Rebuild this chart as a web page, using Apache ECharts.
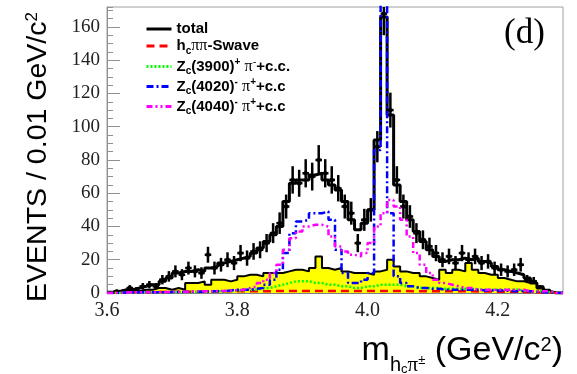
<!DOCTYPE html>
<html>
<head>
<meta charset="utf-8">
<script src="https://cdn.jsdelivr.net/npm/echarts@6/dist/echarts.min.js"></script>
<style>
  html, body { margin: 0; padding: 0; background: #fff; }
  #chart { width: 577px; height: 374px; }
</style>
</head>
<body>
<div id="chart"></div>
<script>
// Binning of the h_c pi invariant mass: 70 bins of 0.01 GeV/c^2 from 3.60 to 4.30
const binLow = 3.60;
const binWidth = 0.01;
const nBins = 70;

// Axis ticks
const xTickValues = [3.6, 3.8, 4.0, 4.2];
const yTickValues = [0, 20, 40, 60, 80, 100, 120, 140, 160];

// Observed events per bin
const dataCounts = [
  0, 1, 1, 3, 2, 4, 5, 4, 8, 10,
  13, 11, 15, 13, 12, 23, 15, 17, 20, 18,
  24, 21, 25, 26, 30, 36, 42, 52, 68, 66,
  72, 70, 80, 72, 68, 63, 52, 48, 30, 44,
  50, 88, 168, 110, 68, 52, 46, 36, 32, 28,
  24, 20, 22, 18, 24, 20, 22, 18, 19, 15,
  14, 13, 14, 17, 8, 7, 3, 1, 0, 0
];

// Fit: total
const total = [
  0.5, 1, 2, 2, 3, 4, 5, 5, 7, 9,
  12, 13, 13, 14, 13, 15, 16, 18, 19, 20,
  21, 22, 24, 27, 31, 35, 40, 55, 66, 68,
  68, 71, 72, 68, 65, 62, 55, 44, 38, 42,
  50, 92, 166, 107, 65, 55, 44, 37, 31, 26,
  22, 19, 20, 20, 21, 20, 21, 19, 18, 16,
  14, 13, 12, 11, 9, 6, 3, 1, 0, 0
];

// Background (filled)
const background = [
  0, 0, 0.5, 1, 1, 2, 2, 3, 3, 2,
  3, 2, 6, 6, 7, 5, 8, 8, 7, 8,
  10, 11, 11, 10, 12, 12, 12, 13, 14, 14,
  13, 15, 22, 15, 14, 15, 13, 12, 12, 12,
  11, 13, 14, 20, 16, 13, 12, 12, 10, 9,
  8, 14, 12, 14, 13, 18, 14, 12, 11, 11,
  9, 8, 7, 7, 6, 6, 4, 2, 0, 0
];

// h_c pi pi S-wave
const swave = [
  0, 0, 0.3, 0.5, 0.5, 0.5, 0.5, 0.6, 0.6, 0.7,
  0.7, 0.8, 0.8, 0.8, 0.9, 0.9, 1, 1, 1, 1,
  1, 1, 1.1, 1.1, 1.1, 1.2, 1.2, 1.2, 1.2, 1.2,
  1.2, 1.2, 1.2, 1.2, 1.2, 1.2, 1.2, 1.2, 1.2, 1.2,
  1.2, 1.2, 1.2, 1.2, 1.2, 1.2, 1.1, 1.1, 1.1, 1.1,
  1, 1, 1, 1, 1, 1, 0.9, 0.9, 0.9, 0.8,
  0.8, 0.7, 0.7, 0.6, 0.5, 0.4, 0.3, 0.2, 0, 0
];

// Z_c(3900)+ pi- + c.c.
const zc3900 = [
  0, 0, 0.3, 0.3, 0.4, 0.4, 0.5, 0.5, 0.5, 0.6,
  0.6, 0.7, 0.7, 0.8, 0.8, 1, 1, 1, 1.2, 1.3,
  1.5, 2, 2, 3, 3, 4, 5, 6, 7, 7,
  7, 6, 6, 5, 5, 4, 4, 3, 3, 4,
  4, 5, 5, 5, 5, 4, 4, 3, 3, 3,
  3, 2.5, 2.5, 2.5, 2.5, 2.5, 2, 2, 2, 2,
  2, 2, 2, 1.5, 1, 1, 1, 0.5, 0, 0
];

// Z_c(4020)- pi+ + c.c.
const zc4020 = [
  0, 0, 0.3, 0.3, 0.4, 0.4, 0.5, 0.5, 0.5, 0.6,
  0.6, 0.7, 0.7, 0.8, 0.8, 1, 1, 1, 1.5, 2,
  2, 2, 2.5, 3, 5, 8, 14, 24, 36, 43,
  44, 48, 48, 49, 44, 26, 12, 6, 6, 8,
  12, 86, 250, 48, 10, 6, 4, 3, 3, 2.5,
  2.5, 2, 2, 2, 2, 2, 2, 1.5, 1.5, 1.5,
  1.5, 1.2, 1, 1, 1, 0.8, 0.5, 0.3, 0, 0
];

// Z_c(4040)- pi+ + c.c.
const zc4040 = [
  0, 0, 0.3, 0.4, 0.5, 0.5, 0.5, 0.6, 0.6, 0.7,
  0.8, 0.8, 0.9, 1, 1, 1, 1.2, 1.3, 1.5, 1.7,
  2, 3, 4, 6, 8, 12, 17, 26, 33, 37,
  40, 41, 41, 40, 34, 28, 25, 23, 22, 24,
  30, 40, 48, 56, 52, 44, 34, 24, 17, 12,
  8, 6, 5, 4, 3, 3, 2, 2, 2, 2,
  2, 2, 2, 2, 1, 1, 1, 1, 0, 0
];

// Histogram outline points: value held across each bin, closed at the upper edge
function histPoints(vals) {
  const pts = vals.map((v, i) => [+(binLow + i * binWidth).toFixed(2), v]);
  pts.push([+(binLow + nBins * binWidth).toFixed(2), vals[vals.length - 1]]);
  return pts;
}

// Data points with Poisson errors and bin-width horizontal bars
const dataPoints = dataCounts
  .map((n, i) => [+(binLow + i * binWidth).toFixed(2), +(binLow + (i + 1) * binWidth).toFixed(2), n, Math.sqrt(n)])
  .filter(d => d[2] > 0);

const SANS = '"Liberation Sans", Arial, sans-serif';
const SERIF = '"Liberation Serif", "Times New Roman", serif';

const legendRich = {
  b: { fontFamily: SANS, fontWeight: 'bold', fontSize: 15, lineHeight: 20, color: '#000' },
  s: { fontFamily: SANS, fontWeight: 'bold', fontSize: 10, padding: [10, 0, 0, 0], color: '#000' },
  p: { fontFamily: SANS, fontWeight: 'bold', fontSize: 10, padding: [0, 0, 8, 0], color: '#000' },
  g: { fontFamily: SERIF, fontWeight: 'normal', fontSize: 16, color: '#000' },
  gp: { fontFamily: SERIF, fontWeight: 'normal', fontSize: 11, padding: [0, 0, 8, 0], color: '#000' }
};

const legendLabels = {
  'total': '{b|total}',
  'hcpipi-Swave': '{b|h}{s|c}{g|ππ}{b|-Swave}',
  'Zc3900': '{b|Z}{s|c}{b|(3900)}{p|+}{b| }{g|π}{gp|-}{b|+c.c.}',
  'Zc4020': '{b|Z}{s|c}{b|(4020)}{p|-}{b| }{g|π}{p|+}{b|+c.c}',
  'Zc4040': '{b|Z}{s|c}{b|(4040)}{p|-}{b| }{g|π}{p|+}{b|+c.c}'
};

function stepSeries(name, vals, color, width, dash) {
  return {
    name: name,
    type: 'line',
    step: 'end',
    data: histPoints(vals),
    symbol: 'none',
    clip: true,
    animation: false,
    lineStyle: { color: color, width: width, type: dash },
    itemStyle: { color: color }
  };
}

const chart = echarts.init(document.getElementById('chart'), null, { renderer: 'canvas' });

chart.setOption({
  animation: false,
  backgroundColor: '#fff',
  grid: {
    left: 107, right: 14, top: 7, bottom: 81,
    show: true, borderColor: '#a0a0a0', borderWidth: 1, backgroundColor: '#fff'
  },
  xAxis: {
    type: 'value',
    min: 3.6, max: 4.3, interval: 0.2,
    axisLine: { show: true, lineStyle: { color: '#808080', width: 1 } },
    axisTick: { show: false },
    splitLine: { show: false },
    axisLabel: {
      show: true, margin: 8,
      fontFamily: SERIF, fontSize: 20, color: '#222',
      showMaxLabel: false,
      formatter: v => {
        const t = xTickValues.find(x => Math.abs(x - v) < 1e-6);
        return t === undefined ? '' : t.toFixed(1);
      }
    }
  },
  yAxis: [
    {
      type: 'value',
      min: 0, max: 172, interval: 20,
      axisLine: { show: true, lineStyle: { color: '#909090', width: 1 } },
      axisTick: { show: true, inside: true, length: 13, lineStyle: { color: '#909090' } },
      splitLine: { show: false },
      axisLabel: {
        margin: 7, fontFamily: SERIF, fontSize: 19, color: '#222',
        showMaxLabel: false,
        formatter: v => (yTickValues.indexOf(Math.round(v)) >= 0 && Math.abs(v - Math.round(v)) < 1e-6) ? String(Math.round(v)) : ''
      }
    },
    {
      type: 'value',
      position: 'left',
      min: 0, max: 172, interval: 5,
      axisLine: { show: false },
      axisTick: { show: true, inside: true, length: 6, lineStyle: { color: '#909090' } },
      axisLabel: { show: false },
      splitLine: { show: false }
    }
  ],
  legend: {
    orient: 'vertical',
    left: 145, top: 21, padding: 0,
    itemWidth: 25, itemHeight: 20, itemGap: 1,
    selectedMode: false,
    data: ['total', 'hcpipi-Swave', 'Zc3900', 'Zc4020', 'Zc4040'],
    lineStyle: { width: 3 },
    itemStyle: { opacity: 0 },
    formatter: name => legendLabels[name],
    textStyle: { rich: legendRich }
  },
  graphic: [
    {
      type: 'text', left: 504, top: 16, z: 100,
      style: { text: '(d)', font: '35px ' + SERIF, fill: '#000' }
    },
    {
      type: 'text', x: 38, y: 157, rotation: Math.PI / 2, z: 100,
      style: {
        text: '{t|EVENTS / 0.01 GeV/c}{u|2}',
        align: 'center', verticalAlign: 'middle',
        rich: {
          t: { fontFamily: SANS, fontSize: 28.5, color: '#000' },
          u: { fontFamily: SANS, fontSize: 17, padding: [0, 0, 12, 0], color: '#000' }
        }
      }
    },
    {
      type: 'text', x: 563, y: 351, z: 100,
      style: {
        text: '{m|m}{h|h}{c|c}{g|π}{pm|±}{m| (GeV/c}{two|2}{m|)}',
        align: 'right', verticalAlign: 'middle',
        rich: {
          m: { fontFamily: SANS, fontSize: 34, color: '#000' },
          h: { fontFamily: SANS, fontSize: 20, padding: [28, 0, 0, 0], color: '#000' },
          c: { fontFamily: SANS, fontSize: 13, padding: [36, 0, 0, 0], color: '#000' },
          g: { fontFamily: SERIF, fontSize: 21, padding: [28, 0, 0, 0], color: '#000' },
          pm: { fontFamily: SANS, fontSize: 13, padding: [18, 0, 0, 0], color: '#000' },
          two: { fontFamily: SANS, fontSize: 20, padding: [0, 0, 12, 0], color: '#000' }
        }
      }
    }
  ],
  series: [
    {
      name: 'background',
      type: 'line',
      step: 'end',
      data: histPoints(background),
      symbol: 'none',
      clip: true,
      lineStyle: { color: '#000', width: 2 },
      areaStyle: { color: '#ffff00', opacity: 1 }
    },
    {
      name: 'data',
      type: 'custom',
      clip: true,
      data: dataPoints,
      encode: { x: [0, 1], y: [2] },
      renderItem: (params, api) => {
        const lo = api.value(0), hi = api.value(1), n = api.value(2), e = api.value(3);
        const pL = api.coord([lo, n]);
        const pR = api.coord([hi, n]);
        const pT = api.coord([(lo + hi) / 2, n + e]);
        const pB = api.coord([(lo + hi) / 2, Math.max(n - e, 0)]);
        return {
          type: 'group',
          children: [
            { type: 'line', shape: { x1: pL[0], y1: pL[1], x2: pR[0], y2: pR[1] }, style: { stroke: '#000', lineWidth: 2.5 } },
            { type: 'line', shape: { x1: pT[0], y1: pT[1], x2: pB[0], y2: pB[1] }, style: { stroke: '#000', lineWidth: 2.5 } },
            { type: 'circle', shape: { cx: (pL[0] + pR[0]) / 2, cy: pL[1], r: 2.2 }, style: { fill: '#000' } }
          ]
        };
      }
    },
    stepSeries('total', total, '#000000', 3, 'solid'),
    stepSeries('hcpipi-Swave', swave, '#ff0000', 2.5, [8, 5]),
    stepSeries('Zc3900', zc3900, '#00ff00', 2.5, [2, 2]),
    stepSeries('Zc4020', zc4020, '#0000ff', 2.5, [7, 3, 2, 3]),
    stepSeries('Zc4040', zc4040, '#ff00ff', 2.5, [6, 3, 2, 3, 2, 3])
  ]
});
</script>
</body>
</html>
